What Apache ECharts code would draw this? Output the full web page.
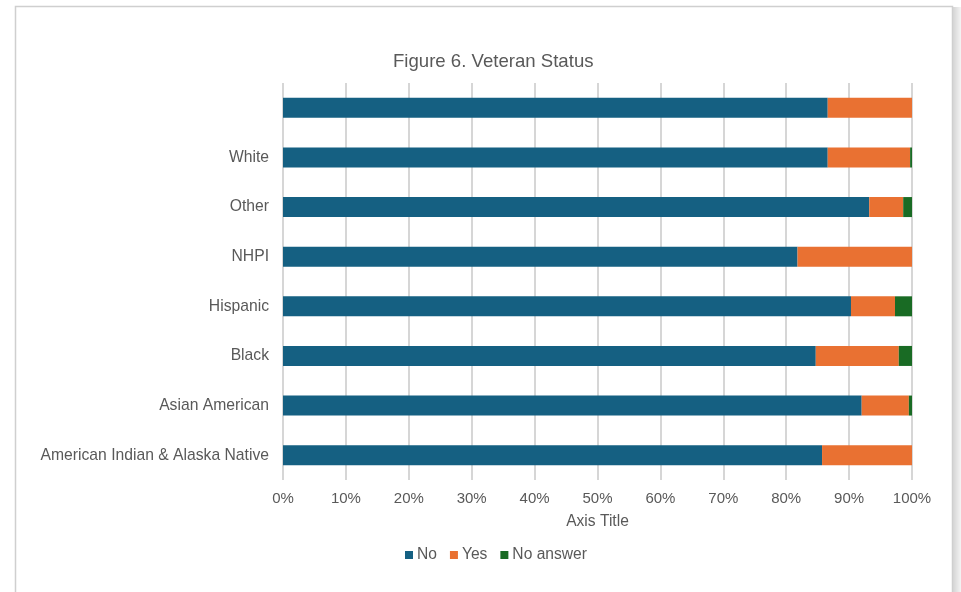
<!DOCTYPE html>
<html>
<head>
<meta charset="utf-8">
<script src="https://cdn.jsdelivr.net/npm/echarts@6/dist/echarts.min.js"></script>
<style>
  html, body { margin: 0; padding: 0; background: #ffffff; }
  #chart { width: 961px; height: 592px; }
</style>
</head>
<body>
<div id="chart"></div>
<script>
// Groups, listed bottom to top (the top row is the unlabelled overall bar)
const categories = [
  'American Indian & Alaska Native',
  'Asian American',
  'Black',
  'Hispanic',
  'NHPI',
  'Other',
  'White',
  ''
];

// Share of respondents (%) per answer
const noValues       = [85.7, 92.0, 84.7, 90.3, 81.8, 93.2, 86.6, 86.6];
const yesValues      = [14.3,  7.5, 13.2,  7.0, 18.2,  5.4, 13.1, 13.4];
const noAnswerValues = [ 0.0,  0.5,  2.1,  2.7,  0.0,  1.4,  0.3,  0.0];

const xTicks = { min: 0, max: 100, interval: 10 };

const textColor = '#595959';
const fontFamily = 'Liberation Sans, Arial, sans-serif';

const chart = echarts.init(document.getElementById('chart'));

function barSeries(name, values, color) {
  return {
    name: name,
    type: 'bar',
    stack: 'total',
    barWidth: 20,
    data: values,
    itemStyle: { color: color },
    emphasis: { disabled: true }
  };
}

chart.setOption({
  backgroundColor: '#ffffff',
  animation: false,
  textStyle: { fontFamily: fontFamily },
  title: {
    text: 'Figure 6. Veteran Status',
    left: 388,
    top: 47,
    textStyle: { color: textColor, fontSize: 18.6, fontWeight: 'normal', fontFamily: fontFamily }
  },
  legend: {
    bottom: 24,
    left: 400,
    itemWidth: 8,
    itemHeight: 8,
    itemGap: 13,
    icon: 'rect',
    textStyle: { color: textColor, fontSize: 15.6, fontFamily: fontFamily, padding: [0, 0, 0, -1] },
    data: ['No', 'Yes', 'No answer']
  },
  grid: { left: 283, right: 49, top: 83, bottom: 112, containLabel: false },
  xAxis: {
    type: 'value',
    min: xTicks.min,
    max: xTicks.max,
    interval: xTicks.interval,
    name: 'Axis Title',
    nameLocation: 'middle',
    nameGap: 34,
    nameTextStyle: { color: textColor, fontSize: 15.6, fontFamily: fontFamily },
    axisLine: { show: false },
    axisTick: { show: false },
    axisLabel: { formatter: '{value}%', color: textColor, fontSize: 15, margin: 11, fontFamily: fontFamily },
    splitLine: { show: true, lineStyle: { color: '#c9c9c9', width: 1.5 } }
  },
  yAxis: {
    type: 'category',
    data: categories,
    axisLine: { show: false },
    axisTick: { show: false },
    axisLabel: { color: textColor, fontSize: 15.7, margin: 14, fontFamily: fontFamily },
    splitLine: { show: false }
  },
  graphic: [
    {
      type: 'rect',
      shape: { x: 15.5, y: 6.5, width: 937, height: 600 },
      style: { fill: 'none', stroke: '#cfcfcf', lineWidth: 1.5 },
      z: -1
    },
    {
      type: 'rect',
      shape: { x: 953, y: 7, width: 8, height: 592 },
      style: {
        fill: new echarts.graphic.LinearGradient(0, 0, 1, 0, [
          { offset: 0, color: '#d4d4d4' },
          { offset: 1, color: '#f4f4f4' }
        ])
      },
      z: -1
    }
  ],
  series: [
    barSeries('No', noValues, '#156082'),
    barSeries('Yes', yesValues, '#E97132'),
    barSeries('No answer', noAnswerValues, '#196B24')
  ]
});
</script>
</body>
</html>
